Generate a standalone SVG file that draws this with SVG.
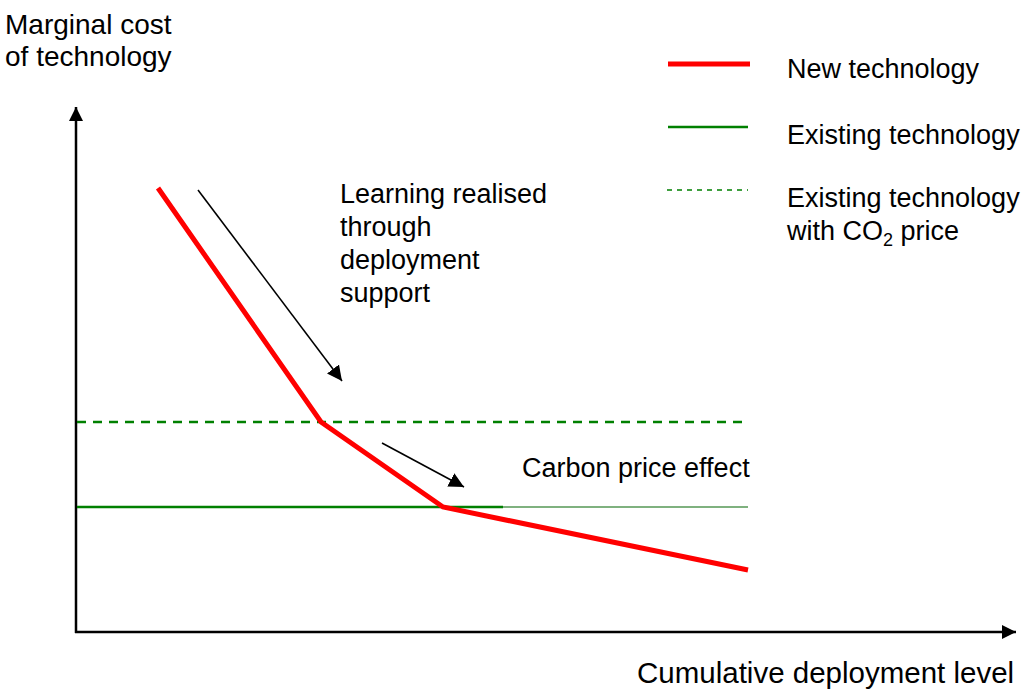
<svg xmlns="http://www.w3.org/2000/svg" width="1022" height="691" viewBox="0 0 1022 691">
<style>
text{font-family:"Liberation Sans",Arial,sans-serif;font-size:27px;fill:#000}
.red{stroke:#ff0000;stroke-width:5;fill:none;stroke-linejoin:miter}
.green{stroke:#008000;stroke-width:2.5;fill:none}
.dash{stroke:#008000;stroke-width:2.5;fill:none;stroke-dasharray:9,7}
.thin{stroke:#006400;stroke-width:1.2;fill:none}
.axis{stroke:#000;stroke-width:2.5;fill:none}
.arr{stroke:#000;stroke-width:1.6;fill:none}
</style>
<defs>
<marker id="ah" viewBox="0 0 10 10" refX="10" refY="5" markerWidth="14" markerHeight="14" markerUnits="userSpaceOnUse" orient="auto"><path d="M0,0 L10,5 L0,10 z" fill="#000"/></marker>
<marker id="ah2" viewBox="0 0 10 10" refX="10" refY="5" markerWidth="15" markerHeight="15" markerUnits="userSpaceOnUse" orient="auto"><path d="M0,0 L10,5 L0,10 z" fill="#000"/></marker>
</defs>
<g id="axes">
<line class="axis" x1="76" y1="633" x2="76" y2="107" marker-end="url(#ah)"/>
<line class="axis" x1="75" y1="632" x2="1016" y2="632" marker-end="url(#ah)"/>
<text x="5" y="34" style="font-size:28px">Marginal cost</text>
<text x="5" y="66" style="font-size:28px">of technology</text>
<text x="637" y="683" style="font-size:29.5px">Cumulative deployment level</text>
</g>
<g id="existing-lines">
<line class="dash" x1="77" y1="422" x2="748" y2="422"/>
<line class="green" x1="77" y1="507" x2="503" y2="507"/>
<line class="thin" x1="503" y1="507" x2="748" y2="507"/>
</g>
<g id="new-technology">
<polyline class="red" points="158,188 321,422 443,507 748,570"/>
</g>
<g id="connectors">
<line class="arr" x1="198" y1="190" x2="342" y2="381" marker-end="url(#ah2)"/>
<line class="arr" x1="382" y1="443" x2="464" y2="487" marker-end="url(#ah2)"/>
</g>
<g id="learning-label">
<text x="340" y="203">Learning realised</text>
<text x="340" y="236">through</text>
<text x="340" y="269">deployment</text>
<text x="340" y="302">support</text>
</g>
<g id="carbon-label">
<text x="522" y="477">Carbon price effect</text>
</g>
<g id="legend">
<line class="red" x1="668" y1="64" x2="750" y2="64"/>
<text x="787" y="78">New technology</text>
<line class="green" x1="668" y1="127" x2="748" y2="127"/>
<text x="787" y="144">Existing technology</text>
<line class="dash" x1="667" y1="190" x2="748" y2="190" style="stroke-width:1.5;stroke-dasharray:5,5"/>
<text x="787" y="207">Existing technology</text>
<text x="787" y="240">with CO<tspan font-size="18" dy="6">2</tspan><tspan dy="-6"> price</tspan></text>
</g>
</svg>
